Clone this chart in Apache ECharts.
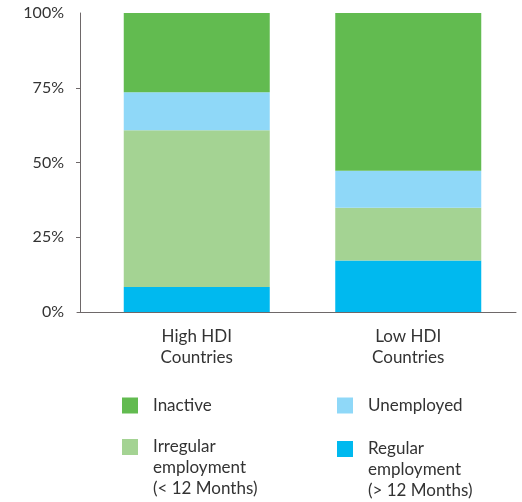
<!DOCTYPE html>
<html>
<head>
<meta charset="utf-8">
<script src="https://cdn.jsdelivr.net/npm/echarts@6/dist/echarts.min.js"></script>
<style>
html,body{margin:0;padding:0;background:#fff;}
#chart{width:522px;height:502px;}
</style>
</head>
<body>
<div id="chart"></div>
<script>
var categories = ['High HDI\nCountries', 'Low HDI\nCountries'];
var regular = [8.4, 17.2];
var irregular = [52.4, 17.7];
var unemployed = [12.7, 12.3];
var inactive = [26.5, 52.8];
var yTicks = [0, 25, 50, 75, 100];
var seriesNames = ['Regular\nemployment\n(> 12 Months)', 'Irregular\nemployment\n(< 12 Months)', 'Unemployed', 'Inactive'];

var FONT = 'Lato';
var TXT = '#333333';
var AXIS = '#6e6869';
var C_INACTIVE = '#62bb50';
var C_UNEMP = '#8fd8f8';
var C_IRREG = '#a4d393';
var C_REG = '#00b9ef';

var chart = echarts.init(document.getElementById('chart'));

function legendItem(name, left, top) {
  return {
    data: [name],
    left: left, top: top,
    orient: 'vertical',
    itemWidth: 16, itemHeight: 16,
    icon: 'rect',
    selectedMode: false,
    padding: 0,
    formatter: function (n) {
      // pad with blank lines above so the first text line aligns with the icon
      var lines = n.split('\n').length;
      var pre = '';
      for (var i = 1; i < lines; i++) pre += ' \n';
      return pre + n;
    },
    textStyle: {
      fontFamily: FONT, fontSize: 17, color: TXT, lineHeight: 21,
      padding: [0, 0, 0, 10]
    }
  };
}

chart.setOption({
  animation: false,
  textStyle: { fontFamily: FONT },
  grid: [
    { left: 91, right: 8, top: 13, bottom: 190 },
    { left: 77, right: 6, top: 13, bottom: 190 }
  ],
  xAxis: [
    {
      type: 'category', gridIndex: 0, data: categories,
      axisLine: { show: false }, axisTick: { show: false },
      axisLabel: { fontFamily: FONT, fontSize: 17, color: TXT, lineHeight: 21, margin: 14 }
    },
    {
      type: 'category', gridIndex: 1, data: [''],
      axisLine: { show: true, lineStyle: { color: AXIS, width: 1 } },
      axisTick: { show: false }, axisLabel: { show: false }
    }
  ],
  yAxis: [
    {
      type: 'value', gridIndex: 0, min: 0, max: 100, interval: 25, offset: 11,
      axisLine: { show: true, lineStyle: { color: AXIS, width: 1 } },
      axisTick: { show: true, length: 4, lineStyle: { color: AXIS }, customValues: [25, 50, 75] },
      splitLine: { show: false },
      axisLabel: {
        fontFamily: FONT, fontSize: 16, color: TXT, margin: 16,
        customValues: yTicks,
        formatter: function (v) { return v + '%'; }
      }
    },
    { type: 'value', gridIndex: 1, min: 0, max: 100, show: false }
  ],
  legend: [
    legendItem(seriesNames[3], 122, 395),
    legendItem(seriesNames[2], 337, 395),
    legendItem(seriesNames[1], 122, 394.5),
    legendItem(seriesNames[0], 337, 396.5)
  ],
  series: [
    { name: seriesNames[0], type: 'bar', stack: 't', barWidth: 146, data: regular, itemStyle: { color: C_REG } },
    { name: seriesNames[1], type: 'bar', stack: 't', barWidth: 146, data: irregular, itemStyle: { color: C_IRREG } },
    { name: seriesNames[2], type: 'bar', stack: 't', barWidth: 146, data: unemployed, itemStyle: { color: C_UNEMP } },
    { name: seriesNames[3], type: 'bar', stack: 't', barWidth: 146, data: inactive, itemStyle: { color: C_INACTIVE } }
  ]
});
</script>
</body>
</html>
